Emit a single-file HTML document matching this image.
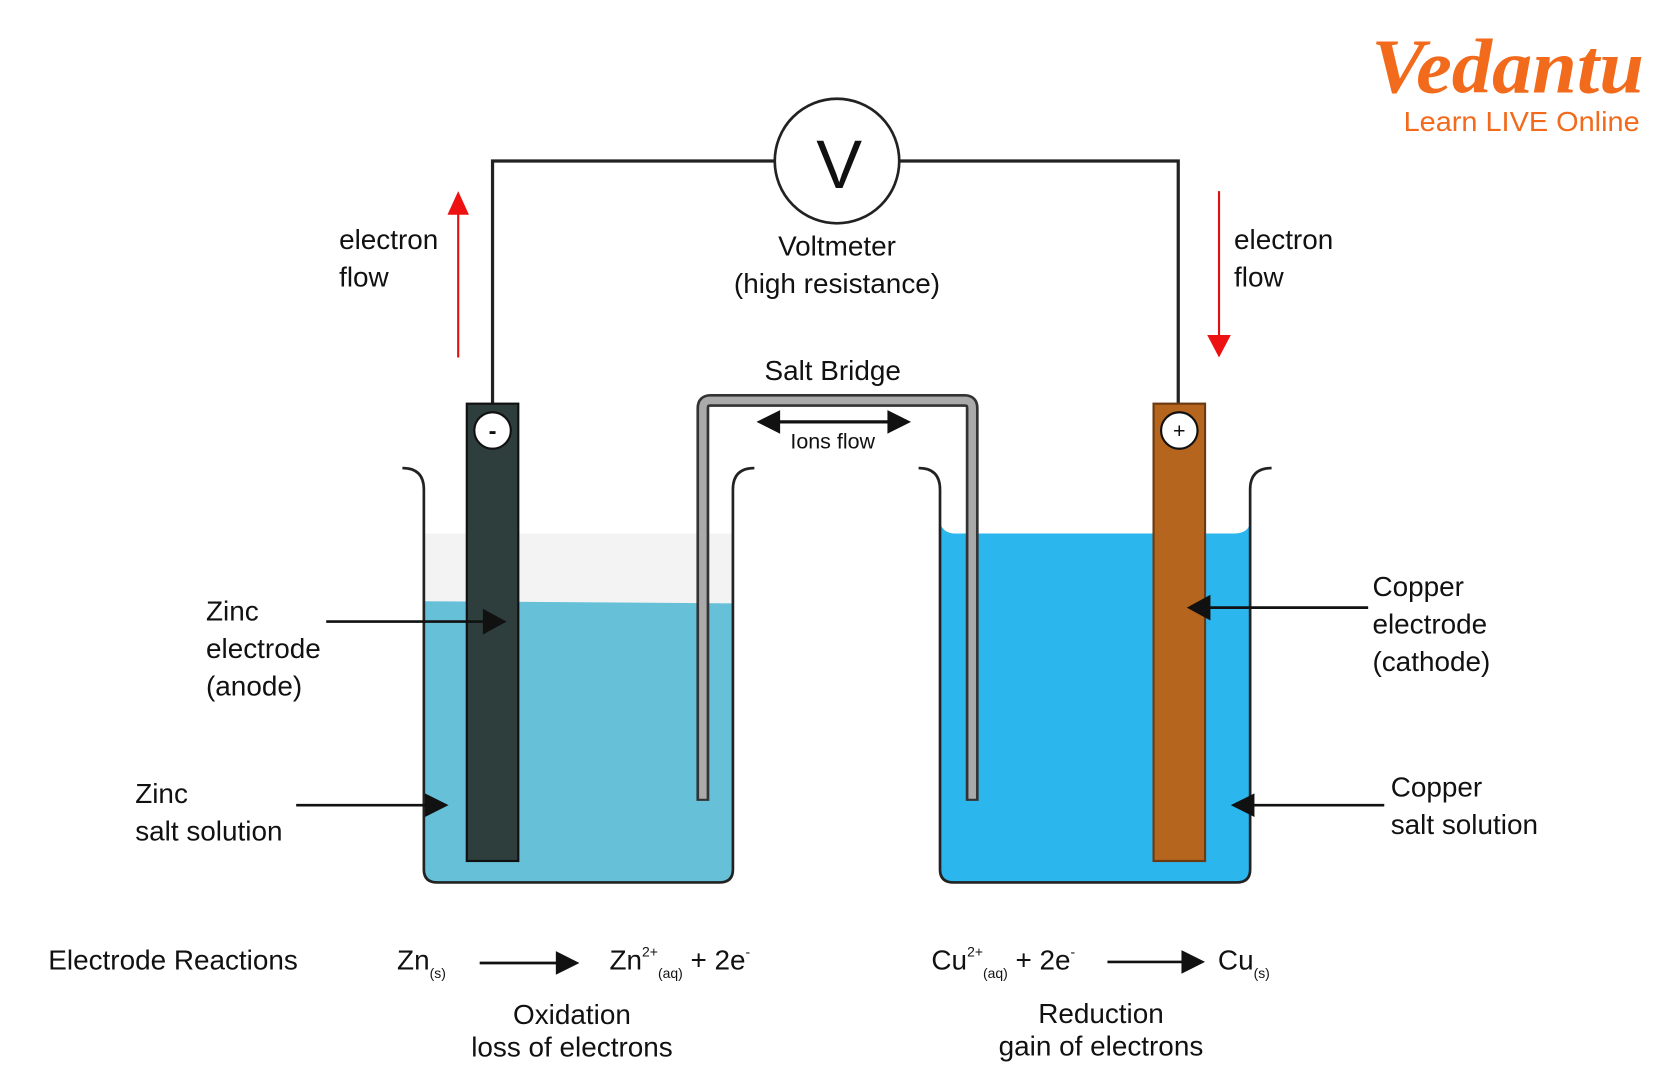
<!DOCTYPE html>
<html><head><meta charset="utf-8"><style>html,body{margin:0;padding:0;background:#fff}svg{display:block}text{font-family:"Liberation Sans",sans-serif;fill:#111}</style></head>
<body>
<svg width="1674" height="1080" viewBox="0 0 1560 1006" preserveAspectRatio="none" xmlns="http://www.w3.org/2000/svg">
<!-- logo -->
<text x="1278" y="86" font-size="72" font-style="italic" font-weight="bold" textLength="254" lengthAdjust="spacingAndGlyphs" style="fill:#f26a1b;font-family:'Liberation Serif',serif">Vedantu</text>
<text x="1308" y="122" font-size="26" textLength="220" lengthAdjust="spacingAndGlyphs" style="fill:#f26a1b">Learn LIVE Online</text>

<!-- wire -->
<polyline points="459,376 459,150 722,150" fill="none" stroke="#222" stroke-width="3"/>
<polyline points="838,150 1098,150 1098,376" fill="none" stroke="#222" stroke-width="3"/>
<circle cx="780" cy="150" r="58" fill="#fff" stroke="#222" stroke-width="2.5"/>
<text x="782" y="175" font-size="64" text-anchor="middle">V</text>
<text x="780" y="238" font-size="26" text-anchor="middle">Voltmeter</text>
<text x="780" y="273" font-size="26" text-anchor="middle">(high resistance)</text>

<!-- red arrows -->
<line x1="427" y1="333" x2="427" y2="195" stroke="#d11" stroke-width="2"/>
<polygon points="427,178 417,200 437,200" fill="#e11"/>
<line x1="1136" y1="178" x2="1136" y2="316" stroke="#d11" stroke-width="2"/>
<polygon points="1136,333 1125,312 1147,312" fill="#e11"/>
<text x="316" y="232" font-size="26">electron</text>
<text x="316" y="267" font-size="26">flow</text>
<text x="1150" y="232" font-size="26">electron</text>
<text x="1150" y="267" font-size="26">flow</text>

<!-- left beaker liquid -->
<rect x="395" y="497" width="288" height="65" fill="#f3f3f3"/>
<path d="M395,560 L683,562 L683,810 Q683,822 670,822 L408,822 Q395,822 395,810 Z" fill="#66c0d8"/>
<path d="M375,436 Q395,436 395,456 L395,810 Q395,822 408,822 L670,822 Q683,822 683,810 L683,456 Q683,436 703,436" fill="none" stroke="#222" stroke-width="2.5"/>
<!-- right beaker liquid -->
<path d="M876,488 Q880,497 890,497 L1150,497 Q1162,497 1165,488 L1165,810 Q1165,822 1152,822 L889,822 Q876,822 876,810 Z" fill="#2bb6ee"/>
<path d="M856,436 Q876,436 876,456 L876,810 Q876,822 889,822 L1152,822 Q1165,822 1165,810 L1165,456 Q1165,436 1185,436" fill="none" stroke="#222" stroke-width="2.5"/>

<!-- salt bridge -->
<path d="M655,746 L655,380 Q655,373 662,373 L899,373 Q906,373 906,380 L906,746" fill="none" stroke="#333" stroke-width="12"/>
<path d="M655,744 L655,380 Q655,373 662,373 L899,373 Q906,373 906,380 L906,744" fill="none" stroke="#aaa" stroke-width="7"/>
<text x="776" y="354" font-size="26" text-anchor="middle">Salt Bridge</text>
<line x1="720" y1="393" x2="834" y2="393" stroke="#111" stroke-width="3"/>
<polygon points="705,393 727,382 727,404" fill="#111"/>
<polygon points="849,393 827,382 827,404" fill="#111"/>
<text x="776" y="418" font-size="20" text-anchor="middle">Ions flow</text>

<!-- electrodes -->
<rect x="435" y="376" width="48" height="426" fill="#2d3e3c" stroke="#111" stroke-width="2"/>
<circle cx="459" cy="401" r="17" fill="#fff" stroke="#111" stroke-width="2"/>
<text x="459" y="409" font-size="22" text-anchor="middle" font-weight="bold">-</text>
<rect x="1075" y="376" width="48" height="426" fill="#b5651d" stroke="#6b3a10" stroke-width="2"/>
<circle cx="1099" cy="401" r="17" fill="#fff" stroke="#111" stroke-width="2"/>
<text x="1099" y="408" font-size="20" text-anchor="middle">+</text>

<!-- label arrows -->
<line x1="304" y1="579" x2="452" y2="579" stroke="#111" stroke-width="2.5"/>
<polygon points="472,579 450,567 450,591" fill="#111"/>
<line x1="276" y1="750" x2="400" y2="750" stroke="#111" stroke-width="2.5"/>
<polygon points="418,750 396,739 396,761" fill="#111"/>
<line x1="1275" y1="566" x2="1126" y2="566" stroke="#111" stroke-width="2.5"/>
<polygon points="1106,566 1128,554 1128,578" fill="#111"/>
<line x1="1290" y1="750" x2="1166" y2="750" stroke="#111" stroke-width="2.5"/>
<polygon points="1147,750 1169,739 1169,761" fill="#111"/>

<g font-size="26">
<text x="192" y="578">Zinc</text><text x="192" y="613">electrode</text><text x="192" y="648">(anode)</text>
<text x="126" y="748">Zinc</text><text x="126" y="783">salt solution</text>
<text x="1279" y="555">Copper</text><text x="1279" y="590">electrode</text><text x="1279" y="625">(cathode)</text>
<text x="1296" y="742">Copper</text><text x="1296" y="777">salt solution</text>
<text x="45" y="903">Electrode Reactions</text>
<text x="370" y="903">Zn<tspan font-size="13" dy="8">(s)</tspan></text>
<text x="568" y="903">Zn<tspan font-size="13" dy="-12">2+</tspan><tspan font-size="13" dy="20">(aq)</tspan><tspan dy="-8"> + 2e</tspan><tspan font-size="13" dy="-12">-</tspan></text>
<text x="533" y="954" text-anchor="middle">Oxidation</text>
<text x="533" y="984" text-anchor="middle">loss of electrons</text>
<text x="868" y="903">Cu<tspan font-size="13" dy="-12">2+</tspan><tspan font-size="13" dy="20">(aq)</tspan><tspan dy="-8"> + 2e</tspan><tspan font-size="13" dy="-12">-</tspan></text>
<text x="1135" y="903">Cu<tspan font-size="13" dy="8">(s)</tspan></text>
<text x="1026" y="953" text-anchor="middle">Reduction</text>
<text x="1026" y="983" text-anchor="middle">gain of electrons</text>
</g>
<line x1="447" y1="897" x2="522" y2="897" stroke="#111" stroke-width="2.5"/>
<polygon points="540,897 518,886 518,908" fill="#111"/>
<line x1="1032" y1="896" x2="1105" y2="896" stroke="#111" stroke-width="2.5"/>
<polygon points="1123,896 1101,885 1101,907" fill="#111"/>
</svg>
</body></html>
